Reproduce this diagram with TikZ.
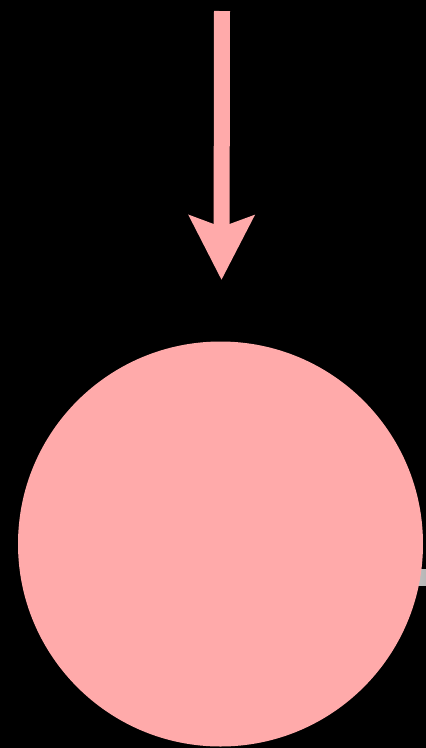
\documentclass[tikz,border=0pt]{standalone}
\usetikzlibrary{arrows.meta}
\definecolor{pinkfill}{HTML}{FFAAAA}
\definecolor{bargrey}{HTML}{CFCFCF}
\tikzset{
  ballstyle/.style={circle, fill=pinkfill, draw=none, minimum size=405pt, inner sep=0pt},
  bigarrow/.style={draw=pinkfill, fill=pinkfill, line width=16pt, -{Stealth[width=64pt,length=64pt,inset=11pt]}},
}
\begin{document}
\begin{tikzpicture}[x=1pt,y=-1pt]
\fill[black] (0,0) rectangle (426,748);
\useasboundingbox (0,0) rectangle (426,748);
\begin{scope}
\clip (0,0) rectangle (426,748);
\shade[left color=bargrey, right color=gray!60] (400,569) rectangle (430,585);
\node[ballstyle] (ball) at (220.5,544) {};
\end{scope}
\coordinate (src) at (222,11);
\coordinate (tip) at (221.5,280);
\draw[bigarrow] (src) -- (tip);
\end{tikzpicture}
\end{document}
